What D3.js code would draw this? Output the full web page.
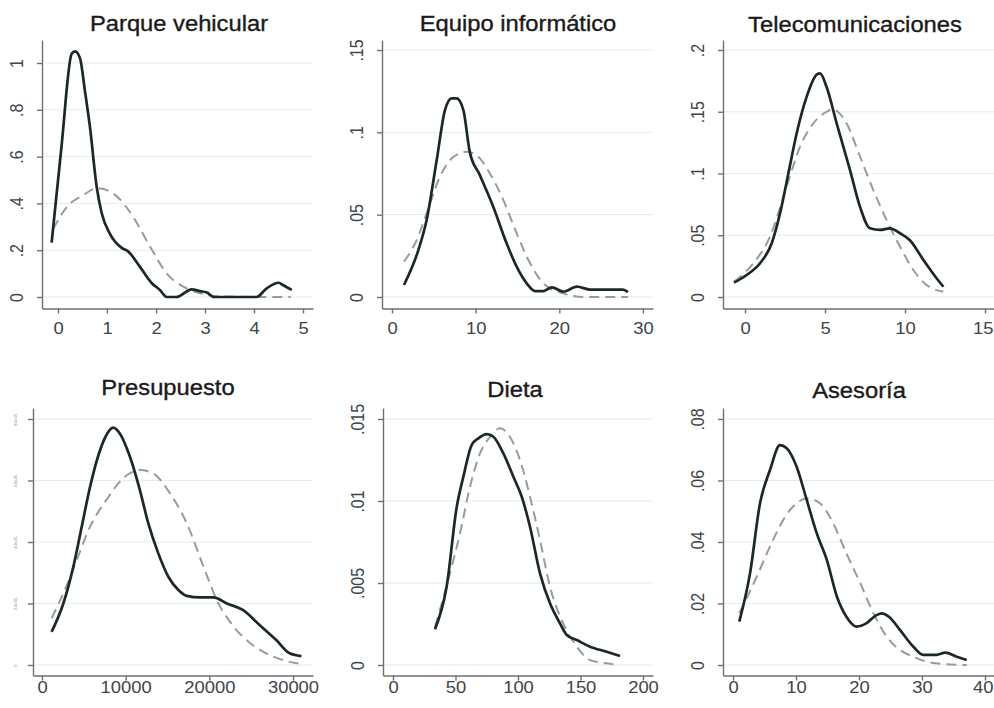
<!DOCTYPE html>
<html><head><meta charset="utf-8">
<script src="https://cdn.jsdelivr.net/npm/d3@7"></script>
<style>body{margin:0;background:#fff}svg{display:block}</style>
</head><body><svg id="c" width="994" height="708"></svg>
<script>
// ---------- DATA ----------
const titles = ["Parque vehicular","Equipo informático","Telecomunicaciones","Presupuesto","Dieta","Asesoría"];

const parqueXTicks = [0,1,2,3,4,5];
const parqueXLabels = ["0","1","2","3","4","5"];
const parqueYTicks = [0,0.2,0.4,0.6,0.8,1];
const parqueYLabels = ["0",".2",".4",".6",".8","1"];
const parqueKernel = [[-0.13,0.232],[0.07,0.64],[0.28,1.04],[0.35,1.05],[0.45,1.02],[0.55,0.88],[0.65,0.73],[0.79,0.47],[0.89,0.36],[1.06,0.27],[1.30,0.21],[1.43,0.195],[1.67,0.13],[1.91,0.06],[2.08,0.03],[2.22,0.0],[2.42,0.0],[2.73,0.033],[2.9,0.025],[3.03,0.02],[3.18,0.0],[4.05,0.0],[4.26,0.037],[4.5,0.061],[4.6,0.05],[4.77,0.03]];
const parqueNormal = [[-0.1,0.29],[0.18,0.385],[0.52,0.436],[0.8,0.465],[1.2,0.43],[1.54,0.34],[1.88,0.215],[2.22,0.10],[2.56,0.044],[2.9,0.016],[3.24,0.003],[4.26,0.0],[4.75,0.0]];

const equipoXTicks = [0,10,20,30];
const equipoXLabels = ["0","10","20","30"];
const equipoYTicks = [0,0.05,0.1,0.15];
const equipoYLabels = ["0",".05",".1",".15"];
const equipoKernel = [[1.43,0.0073],[3.15,0.0285],[4.14,0.0468],[5.34,0.083],[6.33,0.1135],[7.13,0.1206],[7.73,0.1206],[8.53,0.1135],[9.3,0.088],[10.5,0.074],[12.1,0.0548],[13.7,0.0326],[14.9,0.0184],[16.1,0.0083],[17.1,0.0036],[18.1,0.0036],[19.1,0.0059],[20.5,0.0032],[22.1,0.0063],[23.7,0.0045],[25.6,0.0045],[27.6,0.0045],[28.2,0.003]];
const equipoNormal = [[1.43,0.0214],[2.95,0.0346],[4.14,0.0508],[5.73,0.073],[7.33,0.085],[8.92,0.0882],[10.1,0.0862],[11.7,0.075],[13.3,0.059],[14.9,0.0387],[16.5,0.0205],[18.1,0.0083],[20.5,0.0022],[22.9,0.0],[28.2,0.0]];

const telecomXTicks = [0,5,10,15];
const telecomXLabels = ["0","5","10","15"];
const telecomYTicks = [0,0.05,0.1,0.15,0.2];
const telecomYLabels = ["0",".05",".1",".15",".2"];
const telecomKernel = [[-0.69,0.0116],[0.1,0.0178],[0.94,0.0273],[1.67,0.0435],[2.19,0.0678],[2.71,0.1],[3.23,0.1326],[3.85,0.162],[4.48,0.18],[4.69,0.181],[5.1,0.170],[5.73,0.1406],[6.56,0.103],[7.19,0.073],[7.81,0.0556],[8.44,0.0543],[9.06,0.0556],[9.69,0.0516],[10.31,0.046],[11.15,0.03],[11.9,0.0164],[12.4,0.0083]];
const telecomNormal = [[-0.69,0.0124],[0.52,0.0273],[1.56,0.0488],[2.6,0.0893],[3.44,0.1217],[4.27,0.1406],[5.1,0.150],[5.45,0.152],[5.8,0.150],[6.35,0.1406],[7.19,0.1136],[8.02,0.0866],[8.85,0.0623],[9.69,0.0407],[10.52,0.0219],[11.35,0.0097],[12.4,0.0043]];

const presuXTicks = [0,10000,20000,30000];
const presuXLabels = ["0","10000","20000","30000"];
const presuYTicks = [0,2e-5,4e-5,6e-5,8e-5];
const presuYLabels = ["0","2.0e-05","4.0e-05","6.0e-05","8.0e-05"];
const presuKernel = [[1150,1.08e-5],[2550,2.0e-5],[3750,3.2e-5],[4750,4.5e-5],[5750,5.8e-5],[6750,6.83e-5],[7700,7.48e-5],[8500,7.72e-5],[9300,7.53e-5],[10500,6.78e-5],[11700,5.69e-5],[12700,4.61e-5],[13900,3.63e-5],[15100,2.87e-5],[16300,2.44e-5],[17300,2.25e-5],[18900,2.2e-5],[20500,2.2e-5],[22100,2.0e-5],[24000,1.79e-5],[26000,1.3e-5],[28000,0.81e-5],[29600,0.38e-5],[31000,0.29e-5]];
const presuNormal = [[1150,1.52e-5],[2550,2.33e-5],[4150,3.41e-5],[5750,4.5e-5],[7700,5.37e-5],[9700,6.07e-5],[11700,6.34e-5],[13300,6.23e-5],[15300,5.58e-5],[17300,4.61e-5],[19300,3.2e-5],[20900,2.11e-5],[22900,1.25e-5],[24900,0.71e-5],[26800,0.38e-5],[28800,0.16e-5],[31000,0.03e-5]];

const dietaXTicks = [0,50,100,150,200];
const dietaXLabels = ["0","50","100","150","200"];
const dietaYTicks = [0,0.005,0.01,0.015];
const dietaYLabels = ["0",".005",".01",".015"];
const dietaKernel = [[33.6,0.00218],[42.9,0.00477],[51,0.00965],[56.3,0.01148],[62.9,0.01341],[68.3,0.01382],[74.9,0.01408],[80.3,0.01392],[88.3,0.0129],[96.3,0.01148],[103,0.01026],[109.6,0.00843],[117.6,0.00559],[125.6,0.00376],[133.6,0.00254],[139,0.00183],[147,0.00152],[157.6,0.00112],[171,0.00081],[181.6,0.00055]];
const dietaNormal = [[33.6,0.00234],[45.6,0.00559],[53.6,0.00803],[61.6,0.01087],[69.6,0.0129],[77.6,0.0139],[85.6,0.01443],[93.6,0.0139],[101.6,0.0125],[109.6,0.01026],[117.6,0.00762],[125.6,0.00477],[136.2,0.00254],[147,0.00112],[157.6,0.0003],[171,0.0001],[180.2,0]];

const asesXTicks = [0,10,20,30,40];
const asesXLabels = ["0","10","20","30","40"];
const asesYTicks = [0,0.02,0.04,0.06,0.08];
const asesYLabels = ["0",".02",".04",".06",".08"];
const asesKernel = [[1.0,0.0141],[2.7,0.0298],[4.29,0.0526],[5.87,0.0634],[7.46,0.0715],[8.52,0.0705],[10.1,0.0645],[11.7,0.0537],[13.3,0.0428],[14.9,0.0341],[16.5,0.0222],[18.0,0.0157],[19.6,0.0125],[21.2,0.0136],[22.6,0.016],[23.6,0.0168],[24.8,0.0156],[26.5,0.0114],[28.6,0.006],[30.2,0.0033],[32.3,0.0033],[33.7,0.004],[35.5,0.0027],[37.1,0.0016]];
const asesNormal = [[1.0,0.0168],[3.76,0.0287],[5.87,0.0385],[7.98,0.0472],[10.1,0.0526],[11.7,0.0542],[13.8,0.0526],[15.9,0.0461],[18.0,0.0363],[20.2,0.0266],[22.3,0.0168],[24.4,0.0092],[26.5,0.0049],[28.6,0.0027],[30.7,0.0011],[33.4,0.0003],[37.1,0]];

// ---------- LAYOUT ----------
const panels = [
 {title:titles[0], xt:parqueXTicks, xl:parqueXLabels, yt:parqueYTicks, yl:parqueYLabels, k:parqueKernel, n:parqueNormal,
  xcal:[0,58,5,303], ycal:[0,297,1,63], box:{l:42,r:313,t:40,b:308.5}, row:0, tx:179, ty:31},
 {title:titles[1], xt:equipoXTicks, xl:equipoXLabels, yt:equipoYTicks, yl:equipoYLabels, k:equipoKernel, n:equipoNormal,
  xcal:[0,392,30,643], ycal:[0,297,0.15,50], box:{l:382,r:653,t:40,b:308.5}, row:0, tx:518, ty:31},
 {title:titles[2], xt:telecomXTicks, xl:telecomXLabels, yt:telecomYTicks, yl:telecomYLabels, k:telecomKernel, n:telecomNormal,
  xcal:[0,745,15,985], ycal:[0,297,0.2,50], box:{l:723,r:1000,t:40,b:308.5}, row:0, tx:855, ty:32},
 {title:titles[3], xt:presuXTicks, xl:presuXLabels, yt:presuYTicks, yl:presuYLabels, k:presuKernel, n:presuNormal,
  xcal:[0,42,30000,293], ycal:[0,665,8e-5,419], box:{l:33,r:313,t:408,b:675.5}, row:1, tx:168, ty:395, tiny:true},
 {title:titles[4], xt:dietaXTicks, xl:dietaXLabels, yt:dietaYTicks, yl:dietaYLabels, k:dietaKernel, n:dietaNormal,
  xcal:[0,393,200,643], ycal:[0,665,0.015,419], box:{l:383,r:653,t:408,b:675.5}, row:1, tx:515, ty:397},
 {title:titles[5], xt:asesXTicks, xl:asesXLabels, yt:asesYTicks, yl:asesYLabels, k:asesKernel, n:asesNormal,
  xcal:[0,733,40,985], ycal:[0,665,0.08,419], box:{l:723,r:1000,t:408,b:675.5}, row:1, tx:859, ty:398}
];

const FONT = "'Liberation Sans', Arial, sans-serif";
const W = 994;
const svg = d3.select("#c");

panels.forEach(p => {
  const xc = d3.scaleLinear().domain([p.xcal[0], p.xcal[2]]).range([p.xcal[1], p.xcal[3]]);
  const yc = d3.scaleLinear().domain([p.ycal[0], p.ycal[2]]).range([p.ycal[1], p.ycal[3]]);
  const x = d3.scaleLinear().domain([xc.invert(p.box.l), xc.invert(p.box.r)]).range([p.box.l, p.box.r]);
  const y = d3.scaleLinear().domain([yc.invert(p.box.b), yc.invert(p.box.t)]).range([p.box.b, p.box.t]);
  const g = svg.append("g");

  // gridlines
  g.append("g").selectAll("line").data(p.yt).join("line")
    .attr("x1", p.box.l).attr("x2", p.box.r)
    .attr("y1", d => y(d)).attr("y2", d => y(d))
    .attr("stroke", "#e1edef").attr("stroke-width", 1);

  const line = d3.line().x(d => x(d[0])).y(d => y(d[1])).curve(d3.curveMonotoneX);

  g.append("path").attr("d", line(p.n)).attr("fill","none")
    .attr("stroke","#9a9a9a").attr("stroke-width",2).attr("stroke-dasharray","10,6");
  g.append("path").attr("d", line(p.k)).attr("fill","none")
    .attr("stroke","#1c2828").attr("stroke-width",2.7).attr("stroke-linejoin","round");

  // x axis
  const xa = g.append("g").attr("transform", `translate(0,${p.box.b})`)
    .call(d3.axisBottom(x).tickValues(p.xt).tickFormat((d,i) => p.xl[i]).tickSize(5).tickSizeOuter(0));
  // y axis
  const ya = g.append("g").attr("transform", `translate(${p.box.l},0)`)
    .call(d3.axisLeft(y).tickValues(p.yt).tickFormat((d,i) => p.yl[i]).tickSize(5).tickSizeOuter(0));

  [xa, ya].forEach(a => {
    a.attr("font-family", FONT);
    a.select(".domain").attr("stroke", "#707070").attr("stroke-width", 1.4);
    a.selectAll(".tick line").attr("stroke", "#707070").attr("stroke-width", 1.4);
    a.selectAll("text").attr("fill", "#404448");
  });
  xa.selectAll("text").attr("font-size", 16).attr("dy", 0)
    .attr("y", p.row === 0 ? 26 : 18).attr("transform", "scale(1.15,1)");
  // keep edge labels inside the window
  xa.selectAll(".tick").each(function(d) {
    const t = d3.select(this).select("text");
    const half = t.node().getComputedTextLength() * 1.15 / 2;
    const cx = x(d);
    if (cx + half > W - 1) {
      t.attr("text-anchor", "end").attr("x", (W - 1 - cx) / 1.15);
    }
  });
  if (p.tiny) {
    ya.selectAll("text").attr("font-size", 3.5).attr("x", 0).attr("dy", 0)
      .attr("text-anchor", "middle").attr("fill", "#6a5a7a")
      .attr("transform", "translate(-16,0) rotate(-90)");
  } else {
    ya.selectAll("text").attr("font-size", 16).attr("x", 0).attr("dy", 0)
      .attr("text-anchor", "middle")
      .attr("transform", "translate(-19,0) scale(1.1,1) rotate(-90)");
  }

  // title
  g.append("text").attr("transform", `translate(${p.tx},${p.ty}) scale(1.08,1)`)
    .attr("text-anchor", "middle").attr("font-family", FONT).attr("font-size", 22)
    .attr("fill", "#1a1a1a").attr("stroke", "#1a1a1a").attr("stroke-width", 0.35)
    .text(p.title);
});
</script>
</body></html>
